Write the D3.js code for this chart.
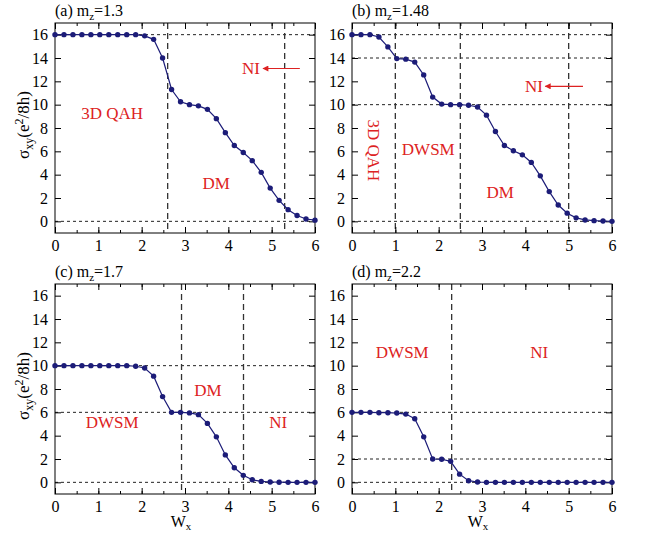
<!DOCTYPE html>
<meta charset="utf-8">
<script src="https://d3js.org/d3.v7.min.js"></script>
<style>
body { margin: 0; background: #fff; }
svg text { font-family: "Liberation Serif", "Times New Roman", Times, serif; }
</style>
<div id="my_dataviz"></div>
<script>

// x positions of the samples (30 points from 0 to 6)
var wx = [0, 0.207, 0.414, 0.621, 0.828, 1.034, 1.241, 1.448, 1.655, 1.862,
          2.069, 2.276, 2.483, 2.690, 2.897, 3.103, 3.310, 3.517, 3.724, 3.931,
          4.138, 4.345, 4.552, 4.759, 4.966, 5.172, 5.379, 5.586, 5.793, 6];

// sigma_xy for each panel
var sigA = [16, 16, 16, 16, 16, 16, 16, 16, 16, 16,
            15.9, 15.6, 14.0, 11.3, 10.25, 10.0, 9.9, 9.6, 8.8, 7.6,
            6.5, 5.9, 5.2, 4.2, 2.85, 1.8, 1.0, 0.5, 0.2, 0.1];
var sigB = [16, 16, 16, 15.8, 14.95, 13.95, 13.9, 13.65, 12.55, 10.65,
            10.05, 10.0, 10.0, 9.95, 9.8, 9.1, 7.7, 6.5, 6.05, 5.7,
            5.05, 3.9, 2.55, 1.4, 0.7, 0.3, 0.12, 0.06, 0.03, 0];
var sigC = [10, 10, 10, 10, 10, 10, 10, 10, 10, 9.95,
            9.8, 9.1, 7.35, 6.0, 6.0, 5.95, 5.8, 5.05, 3.9, 2.35,
            1.25, 0.6, 0.22, 0.08, 0.03, 0.01, 0, 0, 0, 0];
var sigD = [6, 6, 6, 5.97, 5.97, 5.94, 5.85, 5.45, 3.9, 2.0,
            1.98, 1.8, 0.7, 0.14, 0.03, 0, 0, 0, 0, 0,
            0, 0, 0, 0, 0, 0, 0, 0, 0, 0];

var letters = ["(a)", "(b)", "(c)", "(d)"];
var mzValues = ["1.3", "1.48", "1.7", "2.2"];

// phase boundaries (vertical dashed) and plateaus (horizontal dotted)
var vLines = [[2.6, 5.3], [1, 2.5, 5], [2.92, 4.35], [2.3]];
var hLines = [[16, 0], [16, 14, 10, 0], [10, 6, 0], [6, 2, 0]];

// phase labels: [text, x, y, rotated]
var phaseLabels = [
  [["3D QAH", 1.32, 9.25, false], ["DM", 3.72, 3.26, false], ["NI", 4.52, 13.1, false]],
  [["3D QAH", 0.49, 6.08, true], ["DWSM", 1.76, 6.17, false], ["DM", 3.42, 2.49, false], ["NI", 4.2, 11.57, false]],
  [["DM", 3.53, 7.9, false], ["DWSM", 1.32, 5.16, false], ["NI", 5.15, 5.16, false]],
  [["DWSM", 1.16, 11.15, false], ["NI", 4.32, 11.15, false]]
];
// arrows pointing to NI: [x from, x to, y]
var arrows = [[5.65, 4.8, 13.1], [5.33, 4.46, 11.57], null, null];

var xTicks = [0, 1, 2, 3, 4, 5, 6];
var yTicks = [0, 2, 4, 6, 8, 10, 12, 14, 16];

var allSig = [sigA, sigB, sigC, sigD];

var panelW = 260, panelH = 210;
var origins = [[55, 23], [352, 23], [55, 284], [352, 284]];
var lineColor = "#1c1c78";
var red = "#dd2222";
var serif = "Liberation Serif, Times New Roman, serif";

var svg = d3.select("#my_dataviz")
  .append("svg")
    .attr("width", 646)
    .attr("height", 536)
    .attr("font-family", serif);

svg.append("defs").append("marker")
    .attr("id", "arrowhead")
    .attr("viewBox", "0 0 10 10")
    .attr("refX", 9).attr("refY", 5)
    .attr("markerWidth", 7).attr("markerHeight", 5)
    .attr("orient", "auto")
  .append("path")
    .attr("d", "M0,0 L10,5 L0,10 z")
    .attr("fill", red);

allSig.forEach(function(sig, p) {
  var g = svg.append("g")
    .attr("transform", "translate(" + origins[p][0] + "," + origins[p][1] + ")");

  var x = d3.scaleLinear().domain([0, 6]).range([0, panelW]);
  var y = d3.scaleLinear().domain([-1, 17]).range([panelH, 0]);

  // horizontal dotted lines
  g.selectAll("hl")
    .data(hLines[p])
    .enter()
    .append("line")
      .attr("x1", 0).attr("x2", panelW)
      .attr("y1", function(d) { return y(d); })
      .attr("y2", function(d) { return y(d); })
      .attr("stroke", "#222")
      .attr("stroke-width", 1)
      .attr("stroke-dasharray", "3,3");

  // vertical dashed lines
  g.selectAll("vl")
    .data(vLines[p])
    .enter()
    .append("line")
      .attr("x1", function(d) { return x(d); })
      .attr("x2", function(d) { return x(d); })
      .attr("y1", 0).attr("y2", panelH)
      .attr("stroke", "#333")
      .attr("stroke-width", 1.3)
      .attr("stroke-dasharray", "6,4");

  // axes: ticks inward on all four sides
  var minorX = d3.range(0, 6.01, 0.5);
  g.append("g")
    .attr("transform", "translate(0," + panelH + ")")
    .call(d3.axisBottom(x).tickValues(minorX).tickSize(-3).tickFormat(""));
  g.append("g")
    .attr("transform", "translate(0," + panelH + ")")
    .call(d3.axisBottom(x).tickValues(xTicks).tickSize(-6).tickPadding(7).tickFormat(d3.format("d")));
  g.append("g")
    .call(d3.axisTop(x).tickValues(minorX).tickSize(-3).tickFormat(""));
  g.append("g")
    .call(d3.axisTop(x).tickValues(xTicks).tickSize(-6).tickFormat(""));
  g.append("g")
    .call(d3.axisLeft(y).tickValues(yTicks).tickSize(-6).tickPadding(7).tickFormat(d3.format("d")));
  g.append("g")
    .attr("transform", "translate(" + panelW + ",0)")
    .call(d3.axisRight(y).tickValues(yTicks).tickSize(-6).tickFormat(""));

  g.selectAll(".domain").remove();
  g.selectAll("g").attr("font-family", serif);
  g.selectAll(".tick line").attr("stroke", "#000");
  g.selectAll(".tick text")
    .style("font-size", "16px")
    .attr("fill", "#000");

  g.append("rect")
    .attr("width", panelW).attr("height", panelH)
    .attr("fill", "none")
    .attr("stroke", "#000")
    .attr("stroke-width", 1);

  // the curve
  var pts = wx.map(function(v, i) { return {w: v, s: sig[i]}; });
  var line = d3.line()
    .x(function(d) { return x(d.w); })
    .y(function(d) { return y(d.s); });
  g.append("path")
    .attr("d", line(pts))
    .attr("fill", "none")
    .attr("stroke", lineColor)
    .attr("stroke-width", 1.2);
  g.selectAll("dots")
    .data(pts)
    .enter()
    .append("circle")
      .attr("cx", function(d) { return x(d.w); })
      .attr("cy", function(d) { return y(d.s); })
      .attr("r", 2.7)
      .attr("fill", lineColor);

  // phase labels
  phaseLabels[p].forEach(function(l) {
    var t = g.append("text")
      .attr("text-anchor", "middle")
      .attr("dominant-baseline", "central")
      .style("font-size", "17px")
      .attr("fill", red)
      .text(l[0]);
    if (l[3]) {
      t.attr("transform", "translate(" + x(l[1]) + "," + y(l[2]) + ") rotate(90)");
    } else {
      t.attr("x", x(l[1])).attr("y", y(l[2]));
    }
  });

  if (arrows[p]) {
    var a = arrows[p];
    g.append("line")
      .attr("x1", x(a[0])).attr("x2", x(a[1]))
      .attr("y1", y(a[2])).attr("y2", y(a[2]))
      .attr("stroke", red)
      .attr("stroke-width", 1.2)
      .attr("marker-end", "url(#arrowhead)");
  }

  // panel title
  var title = g.append("text")
    .attr("x", 0).attr("y", -7)
    .style("font-size", "16px")
    .attr("fill", "#000");
  title.append("tspan").text(letters[p] + " m");
  title.append("tspan").attr("dy", 4).style("font-size", "11px").text("z");
  title.append("tspan").attr("dy", -4).text("=" + mzValues[p]);

  // y label on left column
  if (p % 2 == 0) {
    var yl = g.append("text")
      .attr("transform", "translate(-26," + (panelH / 2 - 3) + ") rotate(-90)")
      .attr("text-anchor", "middle")
      .style("font-size", "17px")
      .attr("fill", "#000");
    yl.append("tspan").text("\u03c3");
    yl.append("tspan").attr("dy", 4).style("font-size", "12px").text("xy");
    yl.append("tspan").attr("dy", -4).text("(e");
    yl.append("tspan").attr("dy", -6).style("font-size", "12px").text("2");
    yl.append("tspan").attr("dy", 6).text("/8h)");
  }

  // x label on bottom row
  if (p >= 2) {
    var xl = g.append("text")
      .attr("x", panelW / 2 - 4).attr("y", panelH + 33)
      .attr("text-anchor", "middle")
      .style("font-size", "16px")
      .attr("fill", "#000");
    xl.append("tspan").text("W");
    xl.append("tspan").attr("dy", 3).style("font-size", "11px").text("x");
  }
});

</script>
